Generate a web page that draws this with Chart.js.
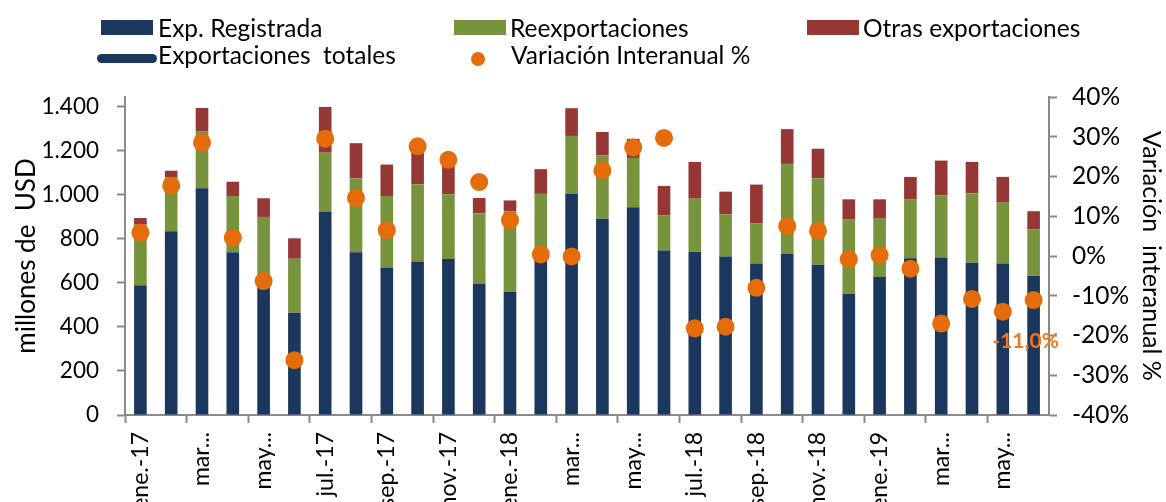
<!DOCTYPE html>
<html>
<head>
<meta charset="utf-8">
<script src="https://cdn.jsdelivr.net/npm/chart.js@4"></script>
<style>
  body { margin: 0; background: #fff; }
  #wrap { position: relative; width: 1166px; height: 502px; font-family: Lato, "Open Sans", sans-serif; }
  .leg { position: absolute; font-size: 24.5px; line-height: 28px; color: #000; white-space: pre; }
  .sw { position: absolute; }
</style>
</head>
<body>
<div id="wrap">
  <canvas id="exportChart" width="1166" height="502"></canvas>
  <div id="legend"></div>
</div>
<script>
const meses = ["ene.-17", "feb.-17", "mar.-17", "abr.-17", "may.-17", "jun.-17", "jul.-17", "ago.-17", "sep.-17", "oct.-17", "nov.-17", "dic.-17",
  "ene.-18", "feb.-18", "mar.-18", "abr.-18", "may.-18", "jun.-18", "jul.-18", "ago.-18", "sep.-18", "oct.-18", "nov.-18", "dic.-18",
  "ene.-19", "feb.-19", "mar.-19", "abr.-19", "may.-19", "jun.-19"];
// etiquetas que se ven en el eje (una cada dos meses)
const etiquetasEje = ["ene.-17", "mar...", "may...", "jul.-17", "sep.-17", "nov.-17", "ene.-18", "mar...", "may...",
  "jul.-18", "sep.-18", "nov.-18", "ene.-19", "mar...", "may..."];
const ticksUSD = [0, 200, 400, 600, 800, 1000, 1200, 1400];

const expRegistrada = [590, 835, 1030, 740, 580, 465, 925, 740, 670, 697, 709, 595,
  560, 700, 1005, 892, 944, 747, 741, 720, 688, 732, 683, 551,
  627, 712, 714, 692, 688, 632];
const reexportaciones = [275, 245, 260, 255, 320, 245, 267, 335, 325, 352, 294, 322,
  365, 305, 263, 288, 224, 161, 242, 192, 182, 409, 393, 338,
  265, 267, 284, 316, 277, 212];
const otrasExp = [30, 30, 105, 65, 85, 93, 208, 160, 143, 146, 147, 69,
  50, 112, 126, 106, 87, 133, 167, 103, 177, 158, 134, 91,
  88, 103, 158, 142, 117, 82];
const variacion = [5.9, 17.7, 28.5, 4.6, -6.3, -26.2, 29.5, 14.6, 6.5, 27.6, 24.2, 18.6,
  9.0, 0.4, -0.1, 21.5, 27.3, 29.7, -18.2, -17.8, -8.0, 7.5, 6.3, -0.8,
  0.2, -3.2, -17.0, -10.8, -14.0, -11.1];
const etiquetaFinal = "-11,0%";

const AZUL = "#1b375e";
const VERDE = "#77933c";
const ROJO = "#953735";
const NARANJA = "#e46c0a";
const GRIS = "#898989";
const FUENTE = "Lato, 'Open Sans', sans-serif";

// leyenda
const items = [
  { x: 101, y: 20, w: 52, h: 15, color: AZUL, tx: 158, ty: 14, text: "Exp. Registrada" },
  { x: 454, y: 20, w: 52, h: 15, color: VERDE, tx: 510, ty: 14, text: "Reexportaciones" },
  { x: 807, y: 20, w: 52, h: 15, color: ROJO, tx: 863, ty: 14, text: "Otras exportaciones" },
  { x: 97, y: 54, w: 60, h: 9, color: AZUL, radius: 5, tx: 158, ty: 41, text: "Exportaciones  totales" },
  { x: 471, y: 52, w: 14, h: 14, color: NARANJA, radius: 7, tx: 511, ty: 41, text: "Variación Interanual %" }
];
const legend = document.getElementById("legend");
items.forEach(it => {
  const sw = document.createElement("div");
  sw.className = "sw";
  sw.style.cssText = `left:${it.x}px;top:${it.y}px;width:${it.w}px;height:${it.h}px;background:${it.color};border-radius:${it.radius || 0}px`;
  legend.appendChild(sw);
  const t = document.createElement("div");
  t.className = "leg";
  t.style.left = it.tx + "px";
  t.style.top = it.ty + "px";
  t.textContent = it.text;
  legend.appendChild(t);
});

const etiquetaUltimo = {
  id: "etiquetaUltimo",
  afterDatasetsDraw(chart) {
    const meta = chart.getDatasetMeta(0);
    const p = meta.data[meta.data.length - 1];
    const ctx = chart.ctx;
    ctx.save();
    ctx.font = "bold 21px " + FUENTE;
    ctx.fillStyle = "#f07820";
    ctx.textAlign = "center";
    ctx.textBaseline = "middle";
    ctx.fillText(etiquetaFinal, p.x - 8, p.y + 41);
    ctx.restore();
  }
};

const ctx = document.getElementById("exportChart").getContext("2d");
new Chart(ctx, {
  type: "bar",
  data: {
    labels: meses,
    datasets: [
      {
        type: "line",
        label: "Variación Interanual %",
        data: variacion,
        yAxisID: "y1",
        showLine: false,
        pointRadius: 9,
        pointBackgroundColor: NARANJA,
        pointBorderWidth: 0
      },
      { label: "Exp. Registrada", data: expRegistrada, backgroundColor: AZUL, yAxisID: "y" },
      { label: "Reexportaciones", data: reexportaciones, backgroundColor: VERDE, yAxisID: "y" },
      { label: "Otras exportaciones", data: otrasExp, backgroundColor: ROJO, yAxisID: "y" }
    ]
  },
  options: {
    responsive: false,
    animation: false,
    layout: { padding: { top: 97, left: 0, right: 0, bottom: 0 } },
    datasets: {
      bar: { barPercentage: 0.41, categoryPercentage: 1, borderWidth: 0 }
    },
    plugins: {
      legend: { display: false },
      tooltip: { enabled: false }
    },
    scales: {
      x: {
        stacked: true,
        grid: {
          offset: true,
          drawOnChartArea: false,
          tickLength: 8,
          tickWidth: 2,
          tickColor: c => (c.index % 2 === 0 ? GRIS : "rgba(0,0,0,0)")
        },
        border: { color: GRIS, width: 2 },
        ticks: {
          autoSkip: false,
          maxRotation: 90,
          minRotation: 90,
          padding: 9,
          color: "#000",
          font: { family: FUENTE, size: 23 },
          callback: (v, i) => (i % 2 === 0 ? etiquetasEje[i / 2] : "")
        },
        afterFit: s => { s.height = 87; }
      },
      y: {
        position: "left",
        stacked: true,
        min: 0,
        max: 1445,
        afterBuildTicks: s => { s.ticks = ticksUSD.map(v => ({ value: v })); },
        grid: { drawOnChartArea: false, tickLength: 8, tickWidth: 2, tickColor: GRIS },
        border: { color: GRIS, width: 2 },
        ticks: {
          padding: 18,
          color: "#000",
          font: { family: FUENTE, size: 22.5 },
          callback: v => v.toString().replace(/\B(?=(\d{3})+(?!\d))/g, ".")
        },
        title: {
          display: true,
          text: "millones de  USD",
          color: "#000",
          font: { family: FUENTE, size: 26 },
          padding: { top: 11, bottom: 0 }
        },
        afterFit: s => { s.width = 125; }
      },
      y1: {
        position: "right",
        min: -40,
        max: 40,
        grid: { drawOnChartArea: false, tickLength: 8, tickWidth: 2, tickColor: GRIS },
        border: { color: GRIS, width: 2 },
        ticks: {
          stepSize: 10,
          padding: 15,
          color: "#000",
          font: { family: FUENTE, size: 24.5 },
          callback: v => v + "%"
        },
        title: {
          display: true,
          text: "Variación  interanual %",
          color: "#000",
          font: { family: FUENTE, size: 25 },
          padding: { top: 0, bottom: 0 }
        },
        afterFit: s => { s.width = 117; }
      }
    }
  },
  plugins: [etiquetaUltimo]
});
</script>
</body>
</html>
